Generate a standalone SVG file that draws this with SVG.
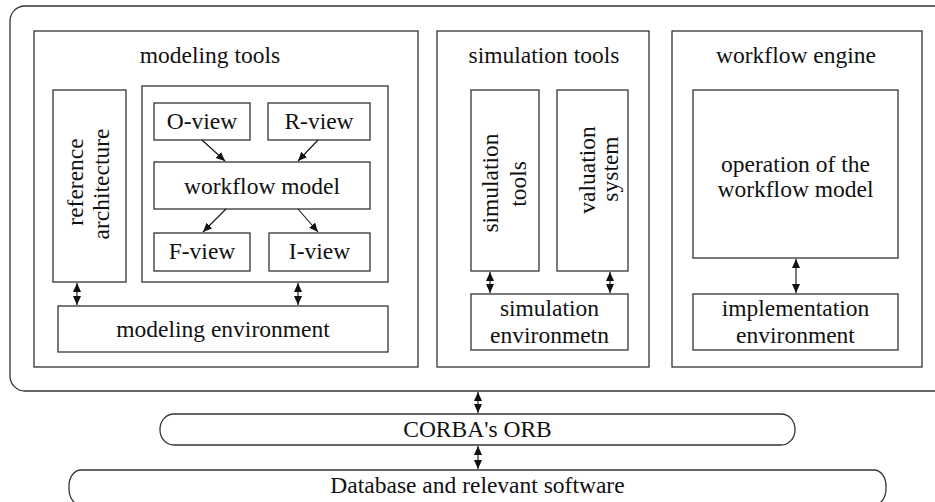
<svg xmlns="http://www.w3.org/2000/svg" width="935" height="502" viewBox="0 0 935 502">
<defs>
<style>
.b{fill:#fff;stroke:#333;stroke-width:1.3}
.t{font-family:"Liberation Serif","Times New Roman",serif;font-size:23.5px;fill:#111;text-anchor:middle}
.c{stroke:#111;stroke-width:1.1;fill:none}
.s{marker-end:url(#ah)}
.d{marker-start:url(#ah);marker-end:url(#ah)}
</style>
<marker id="ah" markerUnits="userSpaceOnUse" markerWidth="10" markerHeight="10" viewBox="0 0 10 10" refX="9" refY="4" orient="auto-start-reverse">
<path d="M0,0 L9,4 L0,8 z" fill="#111"/>
</marker>
</defs>
<rect width="935" height="502" fill="#fff"/>
<g id="platform"><rect class="b" x="10" y="6" width="945" height="385" rx="15" ry="15"/></g>
<g id="modeling-tools">
<rect class="b" x="34" y="31" width="384" height="336"/>
<text class="t" x="210" y="63">modeling tools</text>
</g>
<g id="reference-architecture">
<rect class="b" x="53" y="90" width="73" height="192"/>
<text class="t" transform="translate(83,182) rotate(-90)">reference</text>
<text class="t" transform="translate(109,184) rotate(-90)">architecture</text>
</g>
<g id="views"><rect class="b" x="142" y="86" width="246" height="196"/></g>
<g id="o-view"><rect class="b" x="154" y="103" width="96" height="37"/><text class="t" x="202" y="129">O-view</text></g>
<g id="r-view"><rect class="b" x="268" y="103" width="102" height="37"/><text class="t" x="319" y="129">R-view</text></g>
<g id="workflow-model"><rect class="b" x="154" y="162" width="216" height="47"/><text class="t" x="262" y="194">workflow model</text></g>
<g id="f-view"><rect class="b" x="154" y="233" width="96" height="38"/><text class="t" x="202" y="259">F-view</text></g>
<g id="i-view"><rect class="b" x="269" y="233" width="101" height="38"/><text class="t" x="319.5" y="259">I-view</text></g>
<g id="modeling-environment"><rect class="b" x="58" y="306" width="330" height="46"/><text class="t" x="223" y="337">modeling environment</text></g>
<g id="simulation-tools-group">
<rect class="b" x="437" y="31" width="212" height="336"/>
<text class="t" x="544" y="63">simulation tools</text>
</g>
<g id="simulation-tools">
<rect class="b" x="471" y="90" width="68" height="181"/>
<text class="t" transform="translate(498,183) rotate(-90)">simulation</text>
<text class="t" transform="translate(526,184) rotate(-90)">tools</text>
</g>
<g id="valuation-system">
<rect class="b" x="557" y="90" width="71" height="181"/>
<text class="t" transform="translate(595,170) rotate(-90)">valuation</text>
<text class="t" transform="translate(618,169) rotate(-90)">system</text>
</g>
<g id="simulation-environment">
<rect class="b" x="471" y="294" width="157" height="56"/>
<text class="t" x="549.5" y="316">simulation</text>
<text class="t" x="549.5" y="343">environmetn</text>
</g>
<g id="workflow-engine">
<rect class="b" x="672" y="31" width="250" height="336"/>
<text class="t" x="796" y="63">workflow engine</text>
</g>
<g id="operation">
<rect class="b" x="693" y="90" width="205" height="168"/>
<text class="t" x="795.5" y="172">operation of the</text>
<text class="t" x="795.5" y="197">workflow model</text>
</g>
<g id="implementation-environment">
<rect class="b" x="693" y="294" width="205" height="56"/>
<text class="t" x="795.5" y="316">implementation</text>
<text class="t" x="795.5" y="343">environment</text>
</g>
<g id="corba-orb">
<rect class="b" x="160" y="414" width="635" height="31" rx="14" ry="15"/>
<text class="t" x="477.5" y="437">CORBA's ORB</text>
</g>
<g id="database">
<rect class="b" x="69" y="470" width="817" height="35" rx="12" ry="16"/>
<text class="t" x="477.5" y="493">Database and relevant software</text>
</g>
<g id="connectors">
<line class="c s" x1="202" y1="140" x2="225" y2="161"/>
<line class="c s" x1="318" y1="140" x2="298" y2="161"/>
<line class="c s" x1="226" y1="209" x2="203" y2="232"/>
<line class="c s" x1="298" y1="209" x2="318" y2="232"/>
<line class="c d" x1="77" y1="283" x2="77" y2="305"/>
<line class="c d" x1="298" y1="283" x2="298" y2="305"/>
<line class="c d" x1="490" y1="272" x2="490" y2="293"/>
<line class="c d" x1="610" y1="272" x2="610" y2="293"/>
<line class="c d" x1="796" y1="259" x2="796" y2="293"/>
<line class="c d" x1="478" y1="392" x2="478" y2="413"/>
<line class="c d" x1="478" y1="446" x2="478" y2="469"/>
</g>
</svg>
